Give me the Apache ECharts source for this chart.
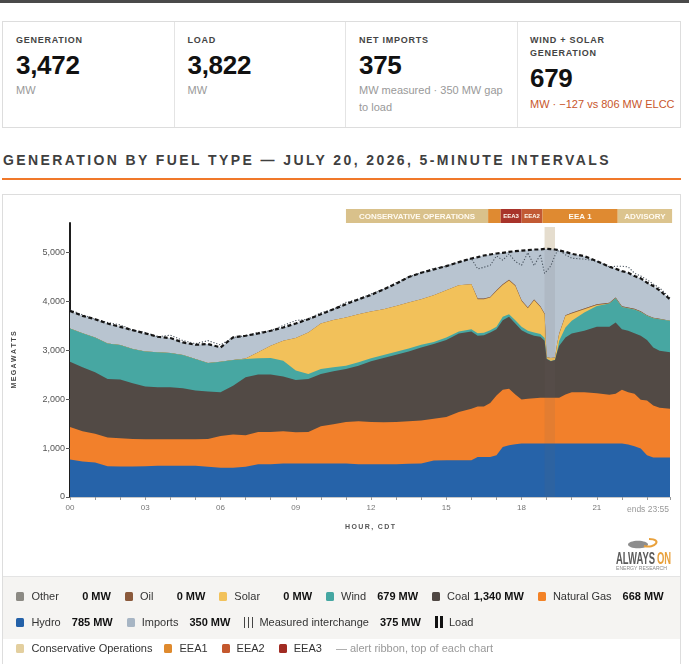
<!DOCTYPE html>
<html>
<head>
<meta charset="utf-8">
<script src="https://cdn.jsdelivr.net/npm/echarts@6.0.0/dist/echarts.min.js"></script>
<style>
*{box-sizing:border-box;}
html,body{margin:0;padding:0;background:#fff;}
body{width:689px;height:664px;overflow:hidden;position:relative;font-family:"Liberation Sans",Arial,Helvetica,sans-serif;}
.abs{position:absolute;white-space:nowrap;}
.lbl{font-size:9px;font-weight:bold;letter-spacing:0.75px;color:#444;line-height:12.6px;}
.num{font-size:26px;font-weight:bold;color:#111;line-height:30px;letter-spacing:-0.3px;}
.sub{font-size:11px;color:#999;line-height:16.6px;}
.sep{position:absolute;top:22px;width:1px;height:105px;background:#e4e4e4;}
.row{position:absolute;left:13.4px;height:26px;display:flex;align-items:center;font-size:11px;color:#333;white-space:nowrap;}
.it{display:flex;align-items:center;margin-right:14px;}
.sw{display:inline-block;width:8px;height:9px;border-radius:1.5px;margin-right:7px;}
.v{display:inline-block;min-width:48px;text-align:right;margin-left:4px;font-weight:bold;color:#111;}
.icm{display:inline-block;width:9px;height:11px;margin-right:6px;background:repeating-linear-gradient(90deg,#444 0 1px,transparent 1px 4px);}
.icl{display:inline-block;width:8px;height:12px;margin-right:6px;background:repeating-linear-gradient(90deg,#111 0 3px,transparent 3px 5px);}
</style>
</head>
<body>
<div class="abs" style="left:0;top:0;width:689px;height:3px;background:#4a4a4a"></div>

<div class="abs" style="left:2px;top:21px;width:679px;height:107px;border:1px solid #ddd"></div>
<div class="sep" style="left:174px"></div>
<div class="sep" style="left:345px"></div>
<div class="sep" style="left:517px"></div>

<div class="abs lbl" style="left:16px;top:34.4px">GENERATION</div>
<div class="abs num" style="left:16px;top:50px">3,472</div>
<div class="abs sub" style="left:16px;top:82.4px">MW</div>

<div class="abs lbl" style="left:187.5px;top:34.4px">LOAD</div>
<div class="abs num" style="left:187.5px;top:50px">3,822</div>
<div class="abs sub" style="left:187.5px;top:82.4px">MW</div>

<div class="abs lbl" style="left:359px;top:34.4px">NET IMPORTS</div>
<div class="abs num" style="left:359px;top:50px">375</div>
<div class="abs sub" style="left:359px;top:82.4px">MW measured · 350 MW gap<br>to load</div>

<div class="abs lbl" style="left:530px;top:34.4px">WIND + SOLAR<br>GENERATION</div>
<div class="abs num" style="left:530px;top:63.3px">679</div>
<div class="abs sub" style="left:530px;top:95.7px;color:#c8562b">MW · −127 vs 806 MW ELCC</div>

<div class="abs" style="left:3px;top:151px;font-size:14px;font-weight:bold;letter-spacing:2.4px;color:#3f3f3f;line-height:18px">GENERATION BY FUEL TYPE — JULY 20, 2026, 5-MINUTE INTERVALS</div>
<div class="abs" style="left:2px;top:178px;width:679px;height:2px;background:#f0782a"></div>

<div class="abs" style="left:2px;top:194px;width:679px;height:480px;border:1px solid #ddd">
  <div id="chart" style="position:absolute;left:0;top:0;width:677px;height:382px"></div>
  <div style="position:absolute;left:0;top:381px;width:677px;height:63px;background:#f5f4f2;border-top:1px solid #e4e4e4"></div>
  <div class="row" style="top:388px">
    <span class="it"><i class="sw" style="background:#8c8a84"></i><span>Other</span><b class="v">0 MW</b></span>
    <span class="it"><i class="sw" style="background:#8b5a3c"></i><span>Oil</span><b class="v">0 MW</b></span>
    <span class="it"><i class="sw" style="background:#f2c25b"></i><span>Solar</span><b class="v">0 MW</b></span>
    <span class="it"><i class="sw" style="background:#45a7a2"></i><span>Wind</span><b class="v">679 MW</b></span>
    <span class="it"><i class="sw" style="background:#4f4743"></i><span>Coal</span><b class="v">1,340 MW</b></span>
    <span class="it"><i class="sw" style="background:#f38226"></i><span>Natural Gas</span><b class="v">668 MW</b></span>
  </div>
  <div class="row" style="top:414px">
    <span class="it"><i class="sw" style="background:#2461a8"></i><span>Hydro</span><b class="v">785 MW</b></span>
    <span class="it"><i class="sw" style="background:#a7b5c4"></i><span>Imports</span><b class="v">350 MW</b></span>
    <span class="it"><i class="icm"></i><span>Measured interchange</span><b class="v">375 MW</b></span>
    <span class="it"><i class="icl"></i><span>Load</span></span>
  </div>
  <div class="row" style="top:440px">
    <span class="it" style="margin-right:12px"><i class="sw" style="background:#e3cf9f"></i><span>Conservative Operations</span></span>
    <span class="it"><i class="sw" style="background:#df8a2e"></i><span>EEA1</span></span>
    <span class="it"><i class="sw" style="background:#c4582e"></i><span>EEA2</span></span>
    <span class="it"><i class="sw" style="background:#a12b22"></i><span>EEA3</span></span>
    <span class="it" style="color:#999">— alert ribbon, top of each chart</span>
  </div>
</div>

<script>
// ---------- data (MW) ----------
const times = ["00:00","00:30","01:00","01:30","02:00","02:30","03:00","03:30","04:00","04:30","05:00","05:30","06:00","06:30","07:00","07:30","08:00","08:30","09:00","09:30","10:00","10:30","11:00","11:30","12:00","12:30","13:00","13:30","14:00","14:30","15:00","15:30","16:00","16:15","16:30","16:45","17:00","17:15","17:30","17:45","18:00","18:15","18:30","18:45","18:55","19:00","19:10","19:20","19:25","19:30","19:45","20:00","20:30","21:00","21:30","21:45","22:00","22:15","22:30","22:45","23:00","23:15","23:30","23:55"];
const hydro = [766,725,705,631,624,624,631,637,637,637,637,617,597,597,617,671,671,685,685,685,685,685,685,671,671,671,671,678,685,746,753,753,753,820,820,820,854,1024,1058,1078,1092,1092,1092,1092,1092,1092,1092,1092,1092,1092,1092,1092,1092,1092,1092,1092,1092,1071,1037,990,854,807,807,807];
const naturalGas = [665,617,590,583,576,563,549,543,543,543,543,570,651,678,644,658,658,657,637,644,759,800,847,875,861,855,861,868,881,854,881,983,1050,1031,1031,1099,1221,1166,1152,1017,901,915,928,935,935,935,935,935,935,935,1003,1050,1050,1030,996,1017,1098,1071,1072,997,1119,1064,1017,996];
const coal = [1335,1309,1254,1200,1200,1139,1078,1064,1064,1044,996,969,894,1000,1187,1173,1173,1119,1071,1085,1071,1085,1085,1139,1241,1315,1377,1430,1492,1526,1573,1607,1580,1444,1457,1444,1356,1424,1472,1451,1417,1336,1275,1248,1166,793,746,773,929,1065,1166,1201,1255,1356,1390,1457,1241,1255,1240,1308,1234,1187,1166,1153];
const wind = [678,698,712,725,705,698,718,712,699,678,644,583,624,525,372,332,339,326,190,101,102,81,68,68,61,61,61,61,54,40,54,40,48,54,48,47,47,68,54,68,68,54,68,54,55,7,7,0,20,101,204,257,373,427,475,495,454,461,482,488,495,596,644,644];
const solar = [0,0,0,0,0,0,0,0,0,0,0,0,0,0,10,122,251,406,665,848,929,969,983,983,956,935,935,936,929,956,963,943,915,692,685,665,732,650,691,698,529,461,657,556,488,27,60,50,150,136,237,149,67,21,0,0,0,0,0,0,0,0,0,0];
const oil = [0,0,0,0,0,0,0,0,0,0,0,0,0,0,0,0,0,0,0,0,0,0,0,0,0,0,0,0,0,0,0,0,0,15,15,15,15,15,15,15,15,15,15,15,15,0,0,0,0,15,15,15,15,15,15,15,15,15,15,15,15,10,10,0];
const other = [0,0,0,0,0,0,0,0,0,0,0,0,0,0,0,0,0,0,0,0,0,0,0,0,0,0,0,0,0,0,0,0,0,0,0,0,0,0,0,0,0,0,0,0,0,0,0,0,0,0,0,0,0,0,0,0,0,0,0,0,0,0,0,0];
const imports = [360,353,373,407,373,386,367,319,305,257,292,387,292,461,465,387,305,272,298,271,190,217,271,305,339,407,455,522,542,529,495,474,529,846,880,866,752,643,568,697,1015,1171,1023,1158,1320,2217,2225,2208,1925,1694,1293,1206,1070,880,737,589,717,710,669,670,663,648,580,441];
const measuredInterchange = [380,373,373,427,413,386,387,319,365,297,312,457,342,461,465,407,305,312,358,271,220,217,311,305,359,407,475,522,542,549,495,474,529,606,640,646,702,493,528,487,715,1121,693,1058,820,1767,1885,2088,1895,1694,1233,1116,1010,880,737,639,817,830,729,720,723,688,630,471];
const load = [3804,3702,3634,3546,3478,3410,3343,3275,3248,3159,3112,3126,3058,3261,3295,3343,3397,3465,3546,3634,3736,3837,3939,4041,4129,4244,4360,4495,4583,4651,4719,4800,4875,4902,4936,4956,4977,4990,5010,5024,5037,5044,5058,5058,5071,5071,5065,5058,5051,5038,5010,4970,4922,4821,4705,4665,4617,4583,4515,4468,4380,4312,4224,4041];

const xTickLabels = ["00","03","06","09","12","15","18","21"];
const yMaxMW = 5600;
const ribbonStart = ["11:00","16:40","17:10","18:00","18:50","21:50"];
const ribbonEnd   = ["16:40","17:10","18:00","18:50","21:50","24:00"];
const ribbonLevel = ["cons","eea1","eea3","eea2","eea1","advisory"];
const ribbonLabel = ["CONSERVATIVE OPERATIONS","","EEA3","EEA2","EEA 1","ADVISORY"];
const bandStart = "18:55", bandEnd = "19:20", bandTopMW = 5520;
const lastTime = "23:55";

// ---------- helpers ----------
const toH = t => { const p = t.split(':').map(Number); return p[0] + p[1]/60; };
const hours = times.map(toH);
const FONT = '"Liberation Sans", Arial, sans-serif';
const spaced = s => s.split('').join('\u2009');

// stack order, bottom to top
const layers = [
  {name:'Hydro', data:hydro, color:'#2663a9'},
  {name:'Natural Gas', data:naturalGas, color:'#f2802b'},
  {name:'Coal', data:coal, color:'#524a45'},
  {name:'Wind', data:wind, color:'#47a7a2'},
  {name:'Solar', data:solar, color:'#f2c15a'},
  {name:'Oil', data:oil, color:'#8b5a3c'},
  {name:'Other', data:other, color:'#8c8a84'},
  {name:'Imports', data:imports, color:'#b8c4d0'}
];
// cumulative tops of the stack
const running = hours.map(() => 0);
layers.forEach(l => { l.top = hours.map((h,i) => (running[i] += l.data[i])); });
const genTotal = hours.map((h,i) => hydro[i]+naturalGas[i]+coal[i]+wind[i]+solar[i]+oil[i]+other[i]);
const measuredLine = hours.map((h,i) => [h, genTotal[i] + measuredInterchange[i]]);

const ribbonColors = {cons:'#d9c18b', eea1:'#df8a31', eea2:'#c25a34', eea3:'#a8332a', advisory:'#dcc48e'};

// painter's order: top of stack first, each area filled down to zero
const areaSeries = layers.slice().reverse().map(l => ({
  name:l.name, type:'line', data:hours.map((h,i) => [h, l.top[i]]),
  symbol:'none', showSymbol:false, silent:true,
  lineStyle:{width:0}, areaStyle:{color:l.color, opacity:1}, itemStyle:{color:l.color}, z:2
}));

function bandSeries(name, fill, z) {
  return {
    name, type:'custom', silent:true, clip:false, z,
    encode:{x:[0,1], y:2},
    data:[[toH(bandStart), toH(bandEnd), bandTopMW]],
    renderItem:(params, api) => {
      const p0 = api.coord([api.value(0), api.value(2)]);
      const p1 = api.coord([api.value(1), 0]);
      return {type:'rect', shape:{x:p0[0], y:p0[1], width:p1[0]-p0[0], height:p1[1]-p0[1]}, style:{fill}};
    }
  };
}

const chart = echarts.init(document.getElementById('chart'), null, {renderer:'canvas'});
const xMax = toH(lastTime);
chart.setOption({
  animation:false,
  grid:{left:67, top:28, width:600, height:274},
  xAxis:{
    type:'value', min:0, max:xMax, interval:1,
    axisLine:{show:true, lineStyle:{color:'#c8c8c8', width:1}},
    axisTick:{show:true, length:3, lineStyle:{color:'#999'}},
    splitLine:{show:false},
    axisLabel:{
      formatter: v => { const k = Math.round(v); return (Math.abs(v-k) < 1e-6 && k % 3 === 0) ? xTickLabels[k/3] : ''; },
      color:'#777', fontSize:8, fontFamily:FONT, margin:7
    },
    name: spaced('HOUR, CDT'), nameLocation:'middle', nameGap:27,
    nameTextStyle:{fontSize:7, fontWeight:'bold', color:'#555', fontFamily:FONT}
  },
  yAxis:{
    type:'value', min:0, max:yMaxMW, interval:1000,
    axisLine:{show:true, lineStyle:{color:'#1e1e1e', width:2}},
    axisTick:{show:true, length:4, lineStyle:{color:'#555'}},
    splitLine:{show:false},
    axisLabel:{showMaxLabel:false, formatter: v => v.toLocaleString('en-US'), color:'#555', fontSize:9, fontFamily:FONT, margin:5},
    name: spaced('MEGAWATTS'), nameLocation:'middle', nameRotate:90, nameGap:52,
    nameTextStyle:{fontSize:7, fontWeight:'bold', color:'#444', fontFamily:FONT}
  },
  series: [bandSeries('Event', '#f4ecdc', 1)].concat(areaSeries, [
    bandSeries('Event shade', 'rgba(110,104,98,0.11)', 3),
    {
      name:'Measured interchange', type:'line', data:measuredLine, symbol:'none', showSymbol:false, silent:true,
      lineStyle:{color:'#4a5560', width:1.1, type:[1.2,1.8]}, z:4
    },
    {
      name:'Load', type:'line', data:hours.map((h,i) => [h, load[i]]), symbol:'none', showSymbol:false, silent:true,
      lineStyle:{color:'#151515', width:2.2, type:[4,2.5]}, z:5
    },
    {
      name:'Alerts', type:'custom', silent:true, clip:false, z:6,
      encode:{x:[0,1]},
      data: ribbonStart.map((s,i) => [toH(s), toH(ribbonEnd[i]), i]),
      renderItem:(params, api) => {
        const i = api.value(2);
        const a = api.coord([api.value(0), yMaxMW]);
        const b = api.coord([api.value(1), yMaxMW]);
        const h = 14, y = a[1] - h;
        const small = ribbonLabel[i].length <= 4;
        return {type:'group', children:[
          {type:'rect', shape:{x:a[0], y:y, width:b[0]-a[0], height:h}, style:{fill:ribbonColors[ribbonLevel[i]]}},
          {type:'text', x:(a[0]+b[0])/2, y:y+h/2+0.5, style:{text:ribbonLabel[i], fill:'#fffaf0',
            font:(small ? 'bold 6px ' : 'bold 8px ') + FONT, align:'center', verticalAlign:'middle'}}
        ]};
      }
    }
  ]),
  graphic:[
    {type:'text', x:666, y:315, style:{text:'ends ' + lastTime, fill:'#999', font:'8.5px ' + FONT, align:'right', verticalAlign:'middle'}},
    {type:'ellipse', shape:{cx:635, cy:349.5, rx:10, ry:3.8}, style:{fill:'#8d8d8d'}},
    {type:'bezierCurve', shape:{x1:641, y1:351, cpx1:652, cpy1:354, cpx2:660, cpy2:344, x2:646, y2:344}, style:{fill:'none', stroke:'#e9a13c', lineWidth:2}},
    {type:'group', x:613, y:365, scaleX:0.59, children:[
      {type:'text', x:0, y:0, style:{text:'ALWAYS', fill:'#5a5a5a', font:'bold 16px ' + FONT, verticalAlign:'middle'}},
      {type:'text', x:69.5, y:0, style:{text:'ON', fill:'#e9a13c', font:'bold 16px ' + FONT, verticalAlign:'middle'}}
    ]},
    {type:'group', x:613, y:373, scaleX:0.92, children:[
      {type:'text', x:0, y:0, style:{text:'ENERGY RESEARCH', fill:'#888', font:'5.5px ' + FONT, verticalAlign:'middle'}}
    ]}
  ]
});
</script>
</body>
</html>
